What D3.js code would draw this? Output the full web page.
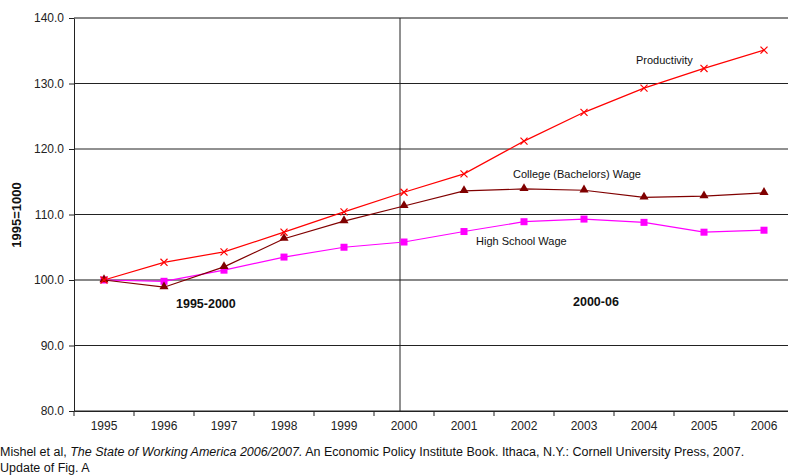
<!DOCTYPE html>
<html>
<head>
<meta charset="utf-8">
<script src="https://cdn.jsdelivr.net/npm/d3@7"></script>
<style>
  body { margin: 0; background: #fff; }
  svg { display: block; font-family: "Liberation Sans", Arial, sans-serif; }
</style>
</head>
<body>
<script>
var width = 788, height = 476;
var margin = {top: 18, left: 74, bottom: 65, right: -6};

// data
var years = ["1995","1996","1997","1998","1999","2000","2001","2002","2003","2004","2005","2006"];
var productivity = [100.0, 102.7, 104.3, 107.3, 110.4, 113.4, 116.2, 121.2, 125.6, 129.3, 132.3, 135.1];
var college = [100.0, 98.9, 102.0, 106.3, 109.0, 111.3, 113.6, 113.9, 113.7, 112.6, 112.8, 113.3];
var highSchool = [100.0, 99.8, 101.5, 103.5, 105.0, 105.8, 107.4, 108.9, 109.3, 108.8, 107.3, 107.6];
var yTicks = [80, 90, 100, 110, 120, 130, 140];

var svg = d3.select("body")
  .append("svg")
  .attr("width", width)
  .attr("height", height);

var x = d3.scaleBand()
  .domain(years)
  .range([margin.left, width - margin.right]);

var y = d3.scaleLinear()
  .domain([80, 140])
  .range([height - margin.bottom, margin.top]);

var cx = d => x(d) + x.bandwidth() / 2;

// gridlines
svg.append("g")
  .selectAll("line")
  .data(yTicks)
  .enter()
  .append("line")
  .attr("x1", margin.left)
  .attr("x2", width)
  .attr("y1", d => y(d))
  .attr("y2", d => y(d))
  .attr("stroke", d => (d == 100 || d == 140) ? "#888" : "#222")
  .attr("stroke-width", d => (d == 100 || d == 140) ? 2 : 1);

// divider at 2000
svg.append("line")
  .attr("x1", cx("2000") - 4).attr("x2", cx("2000") - 4)
  .attr("y1", y(140)).attr("y2", y(80))
  .attr("stroke", "#222")
  .attr("stroke-width", 1);

// y axis
var yAxis = svg.append("g")
  .attr("transform", "translate(" + margin.left + ",0)")
  .call(d3.axisLeft(y).tickValues(yTicks).tickFormat(d3.format(".1f")).tickSize(5).tickSizeOuter(0));
yAxis.select(".domain").attr("stroke", "#222");
yAxis.selectAll("line").attr("stroke", "#222");
yAxis.selectAll("text")
  .attr("font-size", 12)
  .attr("fill", "#222")
  .attr("x", -10)
  .attr("font-family", "Liberation Sans, Arial, sans-serif");

// x axis
var xAxis = svg.append("g")
  .attr("transform", "translate(0," + y(80) + ")")
  .call(d3.axisBottom(x).tickSize(0));
xAxis.select(".domain").attr("stroke", "#222");
xAxis.selectAll("text")
  .attr("font-size", 12)
  .attr("fill", "#222")
  .attr("dy", "1.35em")
  .attr("font-family", "Liberation Sans, Arial, sans-serif");
xAxis.selectAll(".edge")
  .data(years)
  .enter()
  .append("line")
  .attr("x1", d => x(d)).attr("x2", d => x(d))
  .attr("y1", 0).attr("y2", 5)
  .attr("stroke", "#222");

var line = d3.line()
  .x((d, i) => cx(years[i]))
  .y(d => y(d));

// high school
svg.append("path")
  .datum(highSchool)
  .attr("d", line)
  .attr("fill", "none")
  .attr("stroke", "#ff00ff")
  .attr("stroke-width", 1.2);
svg.append("g")
  .selectAll("rect")
  .data(highSchool)
  .enter()
  .append("rect")
  .attr("x", (d, i) => cx(years[i]) - 3.5)
  .attr("y", d => y(d) - 3.5)
  .attr("width", 7)
  .attr("height", 7)
  .attr("fill", "#ff00ff");

// college
svg.append("path")
  .datum(college)
  .attr("d", line)
  .attr("fill", "none")
  .attr("stroke", "#800000")
  .attr("stroke-width", 1.2);
svg.append("g")
  .selectAll("path")
  .data(college)
  .enter()
  .append("path")
  .attr("d", d3.symbol(d3.symbolTriangle, 36))
  .attr("transform", (d, i) => "translate(" + cx(years[i]) + "," + (y(d) - 0.5) + ")")
  .attr("fill", "#800000");

// productivity
svg.append("path")
  .datum(productivity)
  .attr("d", line)
  .attr("fill", "none")
  .attr("stroke", "#ff0000")
  .attr("stroke-width", 1.2);
svg.append("g")
  .selectAll("path")
  .data(productivity)
  .enter()
  .append("path")
  .attr("d", d3.symbol(d3.symbolX, 34))
  .attr("transform", (d, i) => "translate(" + cx(years[i]) + "," + y(d) + ")")
  .attr("fill", "none")
  .attr("stroke", "#ff0000")
  .attr("stroke-width", 1.2);

// annotations
var notes = [
  {t: "Productivity", x: 636, y: 64, w: "normal", s: 11},
  {t: "College (Bachelors) Wage", x: 513, y: 178, w: "normal", s: 11},
  {t: "High School Wage", x: 476, y: 245, w: "normal", s: 11},
  {t: "1995-2000", x: 176, y: 308, w: "bold", s: 12.5},
  {t: "2000-06", x: 573, y: 306, w: "bold", s: 12.5}
];
svg.append("g")
  .selectAll("text")
  .data(notes)
  .enter()
  .append("text")
  .attr("x", d => d.x)
  .attr("y", d => d.y)
  .attr("font-size", d => d.s)
  .attr("font-weight", d => d.w)
  .attr("fill", "#111")
  .text(d => d.t);

// y title
svg.append("text")
  .attr("transform", "translate(21,215)rotate(-90)")
  .attr("text-anchor", "middle")
  .attr("font-size", 13)
  .attr("font-weight", "bold")
  .attr("fill", "#111")
  .text("1995=1000");

// source
var src = svg.append("text")
  .attr("x", 0)
  .attr("y", 456)
  .attr("font-size", 12.5)
  .attr("fill", "#111");
src.append("tspan").text("Mishel et al, ");
src.append("tspan").attr("font-style", "italic").text("The State of Working America 2006/2007.");
src.append("tspan").text(" An Economic Policy Institute Book. Ithaca, N.Y.: Cornell University Press, 2007.");
svg.append("text")
  .attr("x", 0)
  .attr("y", 472)
  .attr("font-size", 12.5)
  .attr("fill", "#111")
  .text("Update of Fig. A");
</script>
</body>
</html>
